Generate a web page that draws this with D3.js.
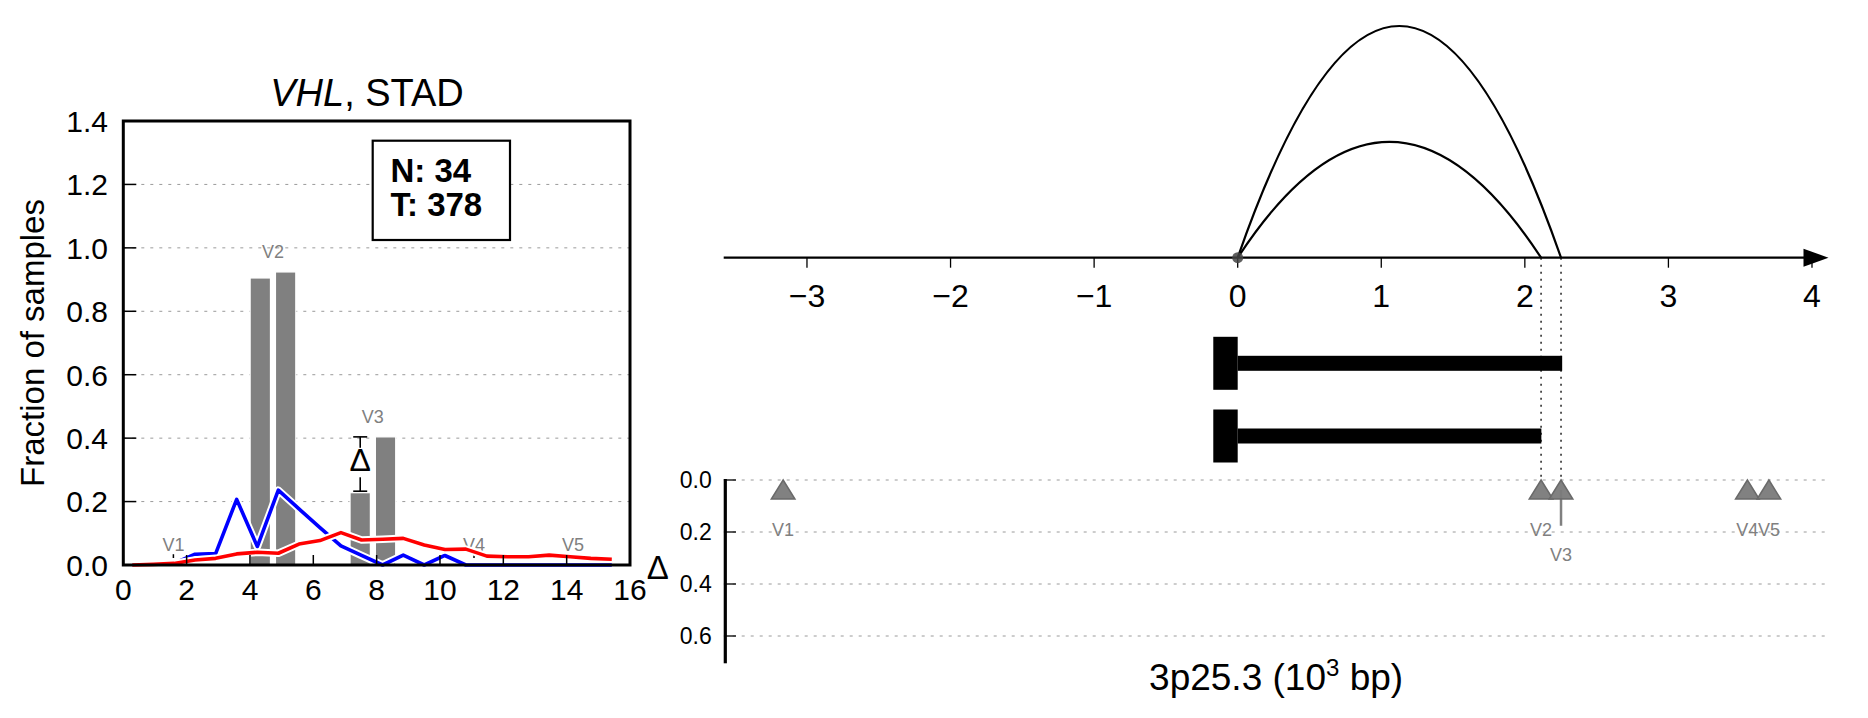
<!DOCTYPE html>
<html><head><meta charset="utf-8">
<script src="https://cdn.jsdelivr.net/npm/d3@7"></script>
<style>
body{margin:0;background:#fff}
svg{display:block}
text{font-family:"Liberation Sans",Arial,Helvetica,sans-serif;fill:#000}
</style>
</head><body>
<svg id="c" width="1868" height="718"></svg>
<script>
// ---------------- data ----------------
const geneName = "VHL";
const cancerName = "STAD";
const countLabels = ["N: 34", "T: 378"];

const variants = ["V1", "V2", "V3", "V4", "V5"];
const varPosLeft = [1.582, 4.726, 7.881, 11.074, 14.199]; // position on left histogram axis
const fracN = [0, 0.905, 0.228, 0, 0];                     // left bar of each pair
const fracT = [0, 0.924, 0.404, 0, 0];                     // right bar of each pair
const varPosKb = [-3.166, 2.113, 2.252, 3.55, 3.70];       // position in 10^3 bp

const binX  = [0.287, 0.949, 1.602, 2.264, 2.916, 3.580, 4.232, 4.895, 5.547, 6.209, 6.872, 7.524,
               8.188, 8.840, 9.502, 10.155, 10.817, 11.480, 12.132, 12.795, 13.447, 14.110, 14.762, 15.425];
const blueY = [0, 0, 0.005, 0.034, 0.036, 0.207, 0.058, 0.236, 0.177, 0.118, 0.06, 0.03,
               0.0, 0.031, 0.0, 0.03, 0.0, 0, 0, 0, 0, 0, 0, 0];
const redY  = [0, 0.002, 0.005, 0.016, 0.021, 0.035, 0.04, 0.037, 0.066, 0.077, 0.102, 0.079,
               0.081, 0.084, 0.063, 0.049, 0.05, 0.028, 0.026, 0.026, 0.031, 0.026, 0.021, 0.018];

const xTicksLeft = [0, 2, 4, 6, 8, 10, 12, 14, 16];
const yTicksLeft = [0, 0.2, 0.4, 0.6, 0.8, 1.0, 1.2, 1.4];

const kbTicks = [-3, -2, -1, 0, 1, 2, 3, 4];
const deltaTicks = [0, 0.2, 0.4, 0.6];

const arcEnds = [2.252, 2.113];
const arcHeights = [1.0, 0.5];

const txNames = ["tx1", "tx2"];
const txStart = [0, 0];
const txEnd = [2.26, 2.115];
const txHeadStart = [-0.17, -0.17];

const xLabelRight = ["3p25.3 (10", "3", " bp)"];

// ---------------- drawing ----------------
const svg = d3.select("#c");
const fmt1 = d3.format(".1f");
const minusFmt = d => (d < 0 ? "\u2212" + Math.abs(d) : String(d));

// ===== Left histogram =====
const xL = d3.scaleLinear().domain([0, 16]).range([123.3, 630]);
const yL = d3.scaleLinear().domain([0, 1.4]).range([565, 121]);
const gL = svg.append("g");

// grid
gL.selectAll("line.grid").data(yTicksLeft.filter(d => d > 0 && d < 1.4)).join("line")
  .attr("x1", xL(0)).attr("x2", xL(16))
  .attr("y1", d => yL(d)).attr("y2", d => yL(d))
  .attr("stroke", "#9a9a9a").attr("stroke-width", 1).attr("stroke-dasharray", "3,6");

// bars
const barW = 0.642, barOff = 0.4;
const barData = [];
variants.forEach((v, i) => {
  barData.push({x: varPosLeft[i] - barOff, v: fracN[i]});
  barData.push({x: varPosLeft[i] + barOff, v: fracT[i]});
});
gL.selectAll("rect.bar").data(barData.filter(d => d.v > 0)).join("rect")
  .attr("x", d => xL(d.x - barW / 2))
  .attr("width", xL(barW) - xL(0))
  .attr("y", d => yL(d.v))
  .attr("height", d => yL(0) - yL(d.v))
  .attr("fill", "#808080").attr("stroke", "#fff").attr("stroke-width", 1.2);

// variant labels (left)
gL.selectAll("text.vl").data(variants).join("text")
  .attr("x", (d, i) => xL(varPosLeft[i]))
  .attr("y", (d, i) => yL(Math.max(fracN[i], fracT[i])) - 14)
  .attr("text-anchor", "middle").attr("font-size", 18)
  .style("fill", "#808080").text(d => d);

// small marks for zero-delta variants
gL.selectAll("line.zm").data(variants.map((v, i) => i).filter(i => fracT[i] - fracN[i] === 0)).join("line")
  .attr("x1", i => xL(varPosLeft[i])).attr("x2", i => xL(varPosLeft[i]))
  .attr("y1", yL(0.022)).attr("y2", yL(0.034))
  .attr("stroke", "#000").attr("stroke-width", 1.5);

// lines
const lineGen = d3.line().x(d => xL(d[0])).y(d => yL(d[1]));
function drawLine(vals, color) {
  const pts = binX.map((x, i) => [x, vals[i]]);
  gL.append("path").attr("d", lineGen(pts)).attr("fill", "none")
    .attr("stroke", "#fff").attr("stroke-width", 7.5).attr("stroke-linejoin", "round");
  gL.append("path").attr("d", lineGen(pts)).attr("fill", "none")
    .attr("stroke", color).attr("stroke-width", 3.6).attr("stroke-linejoin", "round");
}
drawLine(blueY, "#0000ff");
drawLine(redY, "#ff0000");

// delta error bar (for variants with a large difference)
variants.forEach((v, i) => {
  const d = fracT[i] - fracN[i];
  if (d < 0.1) return;
  const x = xL(varPosLeft[i] - barOff);
  const yTop = yL(fracT[i]), yBot = yL(fracN[i]);
  const mid = (yTop + yBot) / 2;
  const g = gL.append("g").attr("stroke", "#000").attr("stroke-width", 1.6);
  g.append("line").attr("x1", x - 7).attr("x2", x + 7).attr("y1", yTop).attr("y2", yTop);
  g.append("line").attr("x1", x - 7).attr("x2", x + 7).attr("y1", yBot - 1.5).attr("y2", yBot - 1.5);
  g.append("line").attr("x1", x).attr("x2", x).attr("y1", yTop).attr("y2", mid - 17);
  g.append("line").attr("x1", x).attr("x2", x).attr("y1", mid + 12.5).attr("y2", yBot - 1.5);
  gL.append("text").attr("x", x).attr("y", mid + 6.5).attr("text-anchor", "middle")
    .attr("font-size", 32).text("\u0394");
});

// ticks
gL.selectAll("line.yt").data(yTicksLeft).join("line")
  .attr("x1", xL(0)).attr("x2", xL(0) + 13)
  .attr("y1", d => yL(d)).attr("y2", d => yL(d))
  .attr("stroke", "#000").attr("stroke-width", 1.5);
gL.selectAll("line.xt").data(xTicksLeft).join("line")
  .attr("x1", d => xL(d)).attr("x2", d => xL(d))
  .attr("y1", yL(0)).attr("y2", yL(0) - 10)
  .attr("stroke", "#000").attr("stroke-width", 1.5);

// spines
gL.append("rect").attr("x", xL(0)).attr("y", yL(1.4))
  .attr("width", xL(16) - xL(0)).attr("height", yL(0) - yL(1.4))
  .attr("fill", "none").attr("stroke", "#000").attr("stroke-width", 3);

// tick labels
gL.selectAll("text.ytl").data(yTicksLeft).join("text")
  .attr("x", 108).attr("y", d => yL(d)).attr("dy", "0.36em")
  .attr("text-anchor", "end").attr("font-size", 30).text(d => fmt1(d));
gL.selectAll("text.xtl").data(xTicksLeft).join("text")
  .attr("x", d => xL(d)).attr("y", 600)
  .attr("text-anchor", "middle").attr("font-size", 30).text(d => d);

// y label
gL.append("text").attr("transform", `translate(44,${(yL(0) + yL(1.4)) / 2}) rotate(-90)`)
  .attr("text-anchor", "middle").attr("font-size", 33).text("Fraction of samples");

// title
const title = gL.append("text").attr("x", 367).attr("y", 106)
  .attr("text-anchor", "middle").attr("font-size", 38);
title.append("tspan").attr("font-style", "italic").text(geneName);
title.append("tspan").text(", " + cancerName);

// N/T box
gL.append("rect").attr("x", 372.7).attr("y", 140.7).attr("width", 137.3).attr("height", 99.3)
  .attr("fill", "#fff").attr("stroke", "#000").attr("stroke-width", 2.2);
gL.selectAll("text.cnt").data(countLabels).join("text")
  .attr("x", 390.5).attr("y", (d, i) => 182 + i * 34)
  .attr("font-size", 33).attr("font-weight", "bold").text(d => d);

// ===== Right panel =====
const xR = d3.scaleLinear().domain([-3.58, 4.115]).range([723.7, 1828.5]);
const axisY = 257.7;
const hR = d3.scaleLinear().domain([0, 1]).range([0, 231.7]);
const yD = d3.scaleLinear().domain([0, 0.705]).range([480, 663.3]);
const gR = svg.append("g");

// dotted guide lines at arc ends
gR.selectAll("line.guide").data(arcEnds).join("line")
  .attr("x1", d => xR(d)).attr("x2", d => xR(d))
  .attr("y1", axisY).attr("y2", yD(0))
  .attr("stroke", "#000").attr("stroke-width", 1.3).attr("stroke-dasharray", "2,5");

// axis line + arrow
gR.append("line").attr("x1", xR(-3.58)).attr("x2", xR(4.115) - 20)
  .attr("y1", axisY).attr("y2", axisY).attr("stroke", "#000").attr("stroke-width", 2.2);
gR.append("path")
  .attr("d", `M${xR(4.115) - 25},${axisY - 9}L${xR(4.115)},${axisY}L${xR(4.115) - 25},${axisY + 9}Z`)
  .attr("fill", "#000");
gR.selectAll("line.kt").data(kbTicks).join("line")
  .attr("x1", d => xR(d)).attr("x2", d => xR(d))
  .attr("y1", axisY).attr("y2", axisY + 10)
  .attr("stroke", "#000").attr("stroke-width", 1.3);
gR.selectAll("text.ktl").data(kbTicks).join("text")
  .attr("x", d => xR(d)).attr("y", 307).attr("text-anchor", "middle")
  .attr("font-size", 32).text(d => minusFmt(d));

// arcs
gR.selectAll("path.arc").data(arcEnds).join("path")
  .attr("d", (e, i) => `M${xR(0)},${axisY}Q${xR(e / 2)},${axisY - 2 * hR(arcHeights[i])} ${xR(e)},${axisY}`)
  .attr("fill", "none").attr("stroke", "#000").attr("stroke-width", 2.2);
gR.append("circle").attr("cx", xR(0)).attr("cy", axisY).attr("r", 5.5)
  .attr("fill", "#444").attr("fill-opacity", 0.85);

// transcripts
const rowY = d3.scalePoint().domain(txNames).range([363.3, 436]);
txNames.forEach((t, i) => {
  gR.append("rect").attr("x", xR(txHeadStart[i])).attr("width", xR(txStart[i]) - xR(txHeadStart[i]))
    .attr("y", rowY(t) - 26.5).attr("height", 53).attr("fill", "#000");
  gR.append("rect").attr("x", xR(txStart[i])).attr("width", xR(txEnd[i]) - xR(txStart[i]))
    .attr("y", rowY(t) - 7.5).attr("height", 15).attr("fill", "#000");
});

// lower delta panel
gR.selectAll("line.dg").data(deltaTicks).join("line")
  .attr("x1", xR(-3.58)).attr("x2", 1827)
  .attr("y1", d => yD(d)).attr("y2", d => yD(d))
  .attr("stroke", "#9a9a9a").attr("stroke-width", 1).attr("stroke-dasharray", "3,6");
gR.append("line").attr("x1", 725.3).attr("x2", 725.3).attr("y1", yD(0) - 1).attr("y2", yD(0.705))
  .attr("stroke", "#000").attr("stroke-width", 3.2);
gR.selectAll("line.dt").data(deltaTicks).join("line")
  .attr("x1", 725.3).attr("x2", 736).attr("y1", d => yD(d)).attr("y2", d => yD(d))
  .attr("stroke", "#000").attr("stroke-width", 1.3);
gR.selectAll("text.dtl").data(deltaTicks).join("text")
  .attr("x", 711.7).attr("y", d => yD(d)).attr("dy", "0.36em")
  .attr("text-anchor", "end").attr("font-size", 23).text(d => fmt1(d));
gR.append("text").attr("x", 657.7).attr("y", 579).attr("text-anchor", "middle")
  .attr("font-size", 33).text("\u0394");

const deltas = variants.map((v, i) => fracT[i] - fracN[i]);
// stems
gR.selectAll("line.stem").data(variants.map((v, i) => i).filter(i => deltas[i] > 0.05)).join("line")
  .attr("x1", i => xR(varPosKb[i])).attr("x2", i => xR(varPosKb[i]))
  .attr("y1", yD(0) + 10).attr("y2", i => yD(deltas[i]))
  .attr("stroke", "#808080").attr("stroke-width", 2.5);
// triangles
gR.selectAll("path.tri").data(varPosKb).join("path")
  .attr("d", p => `M${xR(p)},${yD(0)}L${xR(p) + 11.8},${yD(0) + 19}L${xR(p) - 11.8},${yD(0) + 19}Z`)
  .attr("fill", "#7a7a7a").attr("fill-opacity", 0.95)
  .attr("stroke", "#6a6a6a").attr("stroke-width", 1.5);
// labels
gR.selectAll("text.vr").data(variants).join("text")
  .attr("x", (d, i) => xR(varPosKb[i]))
  .attr("y", (d, i) => yD(Math.max(0.19, deltas[i] + 0.11)))
  .attr("dy", "0.36em").attr("text-anchor", "middle").attr("font-size", 18)
  .style("fill", "#808080").text(d => d);

// x label
const xl = gR.append("text").attr("x", (xR(-3.58) + xR(4.115)) / 2).attr("y", 690)
  .attr("text-anchor", "middle").attr("font-size", 37);
xl.append("tspan").text(xLabelRight[0]);
xl.append("tspan").attr("font-size", 24).attr("dy", -14).text(xLabelRight[1]);
xl.append("tspan").attr("dy", 14).text(xLabelRight[2]);
</script>
</body></html>
